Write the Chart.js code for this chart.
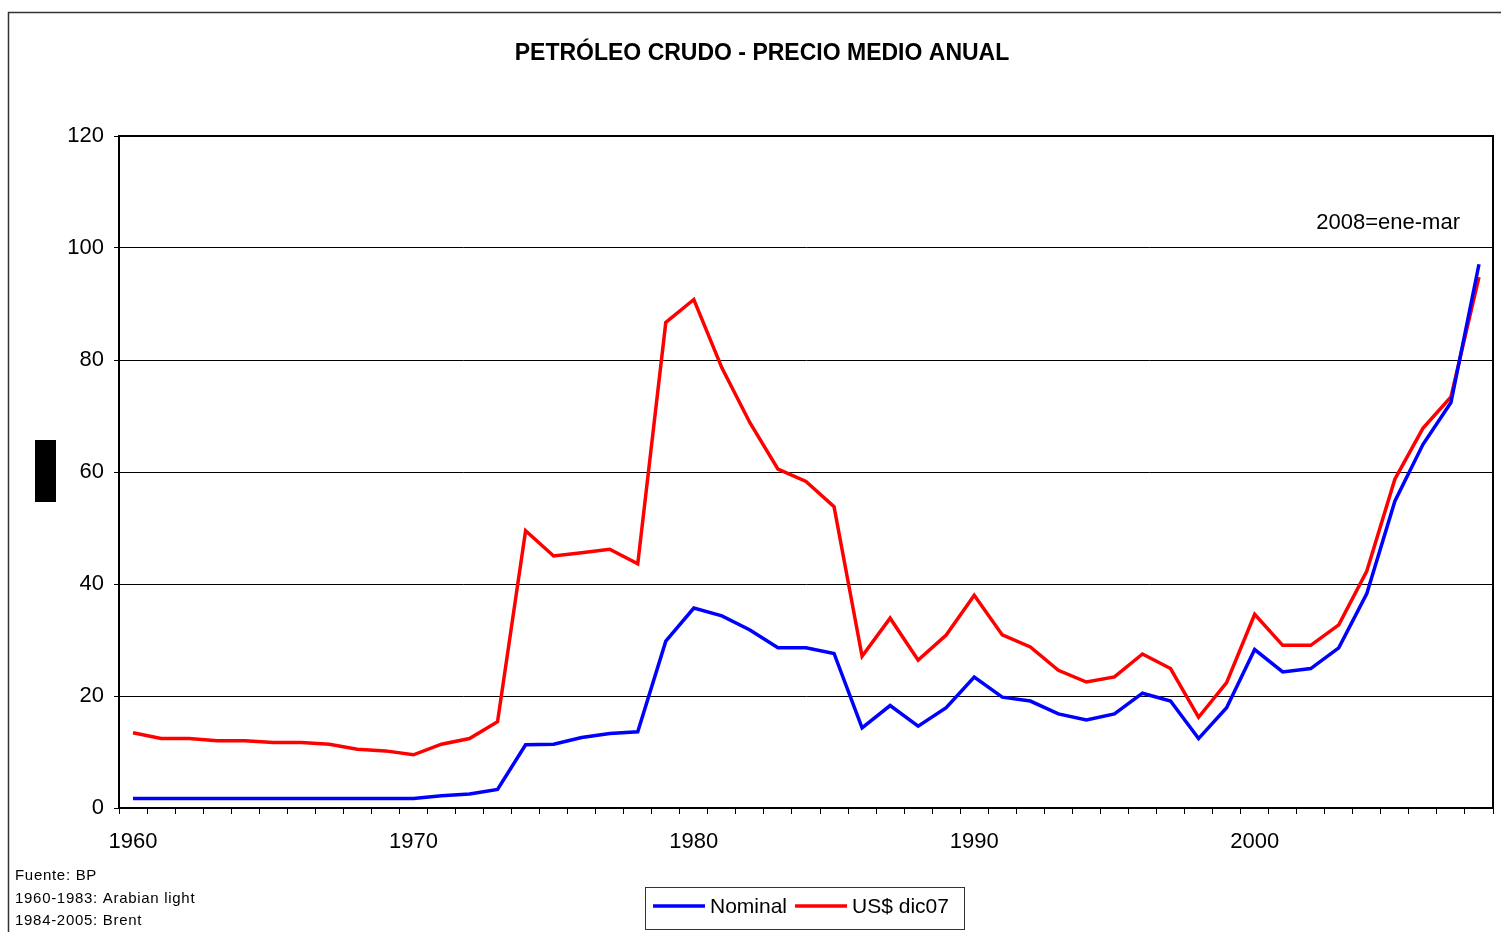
<!DOCTYPE html>
<html>
<head>
<meta charset="utf-8">
<script src="https://cdn.jsdelivr.net/npm/chart.js@4.4.0/dist/chart.umd.min.js"></script>
<style>
  html, body { margin: 0; padding: 0; background: #fff; }
  #wrap { width: 1501px; height: 932px; }
</style>
</head>
<body>
<div id="wrap"><canvas id="chart1" width="1501" height="932"></canvas></div>
<script>
// years on the category axis
var years = [1960, 1961, 1962, 1963, 1964, 1965, 1966, 1967, 1968, 1969,
    1970, 1971, 1972, 1973, 1974, 1975, 1976, 1977, 1978, 1979,
    1980, 1981, 1982, 1983, 1984, 1985, 1986, 1987, 1988, 1989,
    1990, 1991, 1992, 1993, 1994, 1995, 1996, 1997, 1998, 1999,
    2000, 2001, 2002, 2003, 2004, 2005, 2006, 2007, 2008];

// nominal price, US$ per barrel
var nominal = [1.7, 1.7, 1.7, 1.7, 1.7, 1.7, 1.7, 1.7, 1.7, 1.7,
    1.7, 2.2, 2.5, 3.3, 11.3, 11.4, 12.6, 13.3, 13.6, 29.8,
    35.7, 34.3, 31.8, 28.6, 28.6, 27.6, 14.3, 18.3, 14.6, 17.9,
    23.4, 19.8, 19.1, 16.8, 15.7, 16.8, 20.5, 19.1, 12.4, 17.9,
    28.3, 24.3, 24.9, 28.6, 38.3, 54.8, 64.9, 72.4, 97.1];

// real price, US$ of dec 2007
var real = [13.45, 12.4, 12.4, 12.0, 12.0, 11.7, 11.7, 11.4, 10.5, 10.2,
    9.5, 11.4, 12.4, 15.4, 49.5, 45.0, 45.6, 46.2, 43.6, 86.7,
    90.8, 78.6, 68.8, 60.5, 58.3, 53.8, 27.1, 33.9, 26.4, 30.9,
    38.0, 30.9, 28.75, 24.6, 22.5, 23.4, 27.5, 24.9, 16.2, 22.4,
    34.6, 29.05, 29.05, 32.7, 42.3, 58.7, 67.8, 73.4, 94.8];

var seriesNames = ['Nominal', 'US$ dic07'];
var yTicks = [0, 20, 40, 60, 80, 100, 120];
var titleText = 'PETRÓLEO CRUDO - PRECIO MEDIO ANUAL';
var noteText = '2008=ene-mar';
var sourceLines = ['Fuente: BP', '1960-1983: Arabian light', '1984-2005: Brent'];

var FONT = "'Liberation Sans', Arial, sans-serif";

// extra drawing: frames, title, notes, legend
var decorPlugin = {
    id: 'decor',
    beforeDraw: function (chart) {
        var ctx = chart.ctx;
        ctx.save();
        ctx.fillStyle = '#fff';
        ctx.fillRect(0, 0, chart.width, chart.height);
        ctx.restore();
    },
    afterDraw: function (chart) {
        var ctx = chart.ctx;
        var a = chart.chartArea;
        ctx.save();

        // outer frame
        ctx.strokeStyle = '#333';
        ctx.lineWidth = 1.5;
        ctx.beginPath();
        ctx.moveTo(8.5, chart.height);
        ctx.lineTo(8.5, 12.5);
        ctx.lineTo(chart.width, 12.5);
        ctx.stroke();

        // plot frame
        ctx.strokeStyle = '#000';
        ctx.lineWidth = 2;
        ctx.strokeRect(a.left, a.top, a.right - a.left, a.bottom - a.top);

        // black box where axis title was
        ctx.fillStyle = '#000';
        ctx.fillRect(35, 440, 21, 62);

        // title
        ctx.fillStyle = '#000';
        ctx.font = 'bold 23px ' + FONT;
        ctx.textAlign = 'center';
        ctx.textBaseline = 'middle';
        ctx.fillText(titleText, 762, 54);

        // note
        ctx.font = '22px ' + FONT;
        ctx.textAlign = 'right';
        ctx.fillText(noteText, 1460, 223);

        // source
        ctx.font = '15px ' + FONT;
        ctx.textAlign = 'left';
        ctx.letterSpacing = '0.7px';
        sourceLines.forEach(function (line, i) {
            ctx.fillText(line, 15, 876 + i * 22.5);
        });
        ctx.letterSpacing = '0px';

        // legend
        ctx.strokeStyle = '#333';
        ctx.lineWidth = 1;
        ctx.strokeRect(645.5, 887.5, 319, 42);
        ctx.font = '21px ' + FONT;
        var x = 653;
        chart.data.datasets.forEach(function (ds) {
            ctx.strokeStyle = ds.borderColor;
            ctx.lineWidth = 3.5;
            ctx.beginPath();
            ctx.moveTo(x, 906);
            ctx.lineTo(x + 52, 906);
            ctx.stroke();
            ctx.fillStyle = '#000';
            ctx.fillText(ds.label, x + 57, 907);
            x += 57 + ctx.measureText(ds.label).width + 8;
        });

        ctx.restore();
    }
};

var ctx = document.getElementById('chart1').getContext('2d');
var myChart = new Chart(ctx, {
    type: 'line',
    data: {
        labels: years,
        datasets: [{
            label: seriesNames[0],
            data: nominal,
            borderColor: '#0000ff',
            borderWidth: 3.5,
            pointRadius: 0,
            tension: 0,
            fill: false
        }, {
            label: seriesNames[1],
            data: real,
            borderColor: '#ff0000',
            borderWidth: 3.5,
            pointRadius: 0,
            tension: 0,
            fill: false
        }]
    },
    plugins: [decorPlugin],
    options: {
        responsive: false,
        animation: false,
        devicePixelRatio: 1,
        layout: {
            padding: { left: 0, top: 136, right: 8, bottom: 0 }
        },
        plugins: {
            legend: { display: false },
            title: { display: false },
            tooltip: { enabled: false }
        },
        scales: {
            x: {
                type: 'category',
                offset: true,
                afterFit: function (scale) { scale.height = 124; },
                grid: {
                    offset: true,
                    drawOnChartArea: false,
                    drawTicks: true,
                    tickLength: 6,
                    color: '#000',
                    lineWidth: 1
                },
                border: { display: true, color: '#000', width: 2 },
                ticks: {
                    autoSkip: false,
                    maxRotation: 0,
                    padding: 15,
                    color: '#000',
                    font: { family: FONT, size: 22 },
                    callback: function (value, index) {
                        var y = years[index];
                        return y % 10 === 0 ? String(y) : '';
                    }
                }
            },
            y: {
                min: yTicks[0],
                max: yTicks[yTicks.length - 1],
                afterFit: function (scale) { scale.width = 119; },
                afterBuildTicks: function (scale) {
                    scale.ticks = yTicks.map(function (v) { return { value: v }; });
                },
                grid: {
                    color: '#000',
                    lineWidth: 1,
                    drawTicks: true,
                    tickLength: 5
                },
                border: { display: true, color: '#000', width: 2 },
                ticks: {
                    padding: 10,
                    color: '#000',
                    font: { family: FONT, size: 22 }
                }
            }
        }
    }
});
</script>
</body>
</html>
